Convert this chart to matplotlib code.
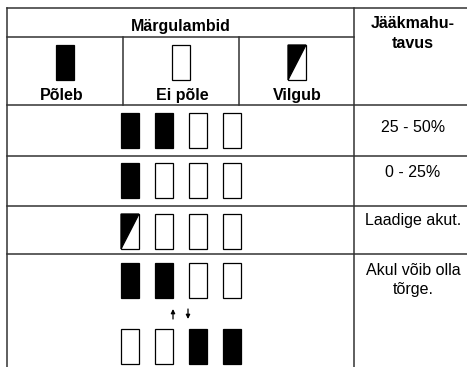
import matplotlib
matplotlib.use("Agg")
import matplotlib.pyplot as plt
from matplotlib.patches import Rectangle, Polygon

plt.rcParams['font.family'] = ['Liberation Sans', 'DejaVu Sans']

# indicator states: 1 = on, 0 = off, 2 = blinking
legend_labels = ["Põleb", "Ei põle", "Vilgub"]
legend_states = [1, 0, 2]
row_states = [
    [[1, 1, 0, 0]],
    [[1, 0, 0, 0]],
    [[2, 0, 0, 0]],
    [[1, 1, 0, 0], [0, 0, 1, 1]],
]
row_texts = ["25 - 50%", "0 - 25%", "Laadige akut.", "Akul võib olla\ntõrge."]
header_left = "Märgulambid"
header_right = "Jääkmahu-\ntavus"

W, H = 467, 367
LINE = '#333333'
FS = 11.5
fig = plt.figure(figsize=(W / 100, H / 100), dpi=100)
ax = fig.add_axes([0, 0, 1, 1])
ax.set_xlim(0, W)
ax.set_ylim(H, 0)
ax.axis('off')


def lamp(x, y, state, w=18, h=35):
    fill = 'black' if state == 1 else 'white'
    ax.add_patch(Rectangle((x, y), w, h, facecolor=fill, edgecolor='black', lw=0.9))
    if state == 2:
        # upper-left half filled
        ax.add_patch(Polygon([(x, y), (x + w, y), (x, y + h)], closed=True,
                             facecolor='black', edgecolor='black', lw=0.9))


# grid lines
left, right, col = 7, 475, 354
hlines_full = [8, 105, 156, 206, 254]
for y in hlines_full:
    ax.plot([left, right], [y, y], color=LINE, lw=1.1)
ax.plot([left, col], [37, 37], color=LINE, lw=1.1)
ax.plot([left, left], [8, H + 5], color=LINE, lw=1.1)
ax.plot([col, col], [8, H + 5], color=LINE, lw=1.1)
for x in [123, 239]:
    ax.plot([x, x], [37, 105], color=LINE, lw=1.1)

ax.text(181, 31, header_left, ha='center', va='baseline', fontsize=FS, fontweight='bold')
ax.text(413, 16, header_right, ha='center', va='top', fontsize=FS,
        fontweight='bold', linespacing=1.45)

legend_x = [56, 172, 288]
label_x = [62, 182, 297]
for lx, tx, lab, st in zip(legend_x, label_x, legend_labels, legend_states):
    lamp(lx, 45, st)
    ax.text(tx, 100, lab, ha='center', va='baseline', fontsize=FS, fontweight='bold')

lamp_x = [121, 155, 189, 223]
row_y = [[113], [163], [214], [263, 329]]
for states, ys in zip(row_states, row_y):
    for st_row, y in zip(states, ys):
        for x, st in zip(lamp_x, st_row):
            lamp(x, y, st)

# arrows between the two patterns
arrow = dict(arrowstyle='-|>', color='black', lw=0.9, mutation_scale=6,
             shrinkA=0, shrinkB=0)
ax.annotate('', xy=(173, 309), xytext=(173, 319), arrowprops=arrow)
ax.annotate('', xy=(188, 319), xytext=(188, 309), arrowprops=arrow)

text_y = [120, 165, 213, 263]
for t, y in zip(row_texts, text_y):
    ax.text(413, y, t, ha='center', va='top', fontsize=FS, linespacing=1.3)

fig.savefig('out.png', dpi=100)
